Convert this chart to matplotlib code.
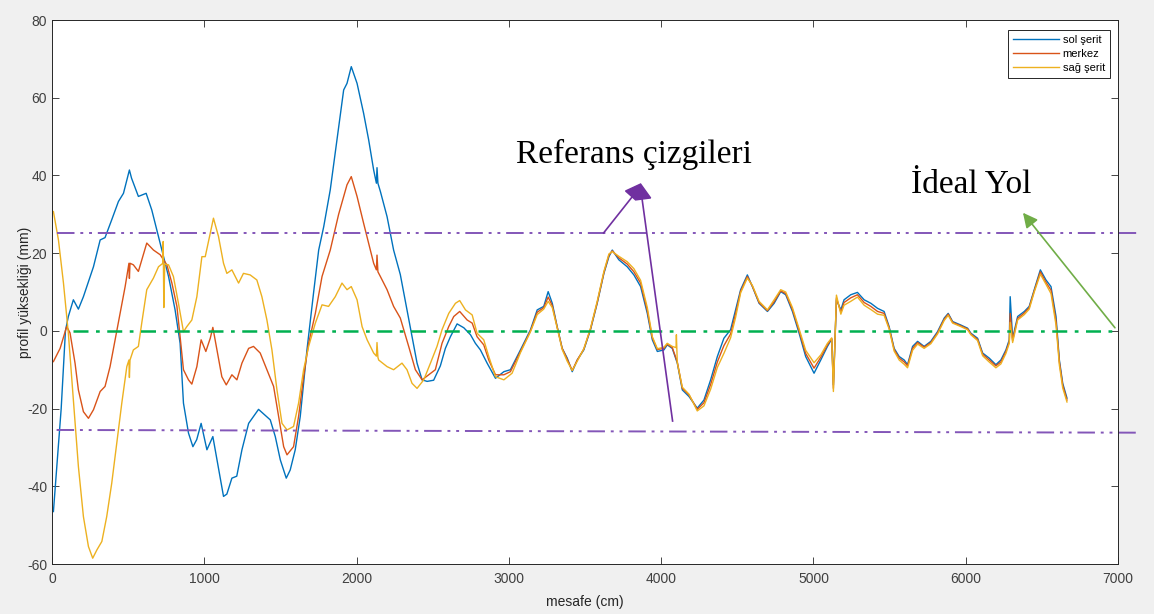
import matplotlib
matplotlib.use("Agg")
import matplotlib.pyplot as plt
from matplotlib.patches import Polygon

plt.rcParams['axes.unicode_minus'] = False

# --- data ---
sol_x = [9, 60, 88, 107, 140, 173, 206, 272, 316, 348, 392, 436, 469, 508, 522, 567, 618, 655,
         710, 765, 808, 841, 863, 896, 925, 950, 979, 1017, 1056, 1083, 1126, 1148, 1181, 1213,
         1247, 1291, 1356, 1433, 1466, 1499, 1538, 1564, 1597, 1630, 1674, 1718, 1751, 1784,
         1827, 1871, 1915, 1937, 1965, 2003, 2046, 2079, 2112, 2130, 2134, 2140, 2156, 2200,
         2243, 2287, 2331, 2364, 2397, 2430, 2463, 2506, 2550, 2583, 2616, 2660, 2704, 2748,
         2780, 2813, 2857, 2912, 2967, 3010, 3076, 3142, 3186, 3229, 3258, 3285, 3317, 3350,
         3383, 3416, 3449, 3492, 3536, 3580, 3624, 3657, 3679, 3722, 3777, 3821, 3865, 3909,
         3942, 3975, 4018, 4040, 4073, 4106, 4139, 4183, 4237, 4281, 4325, 4369, 4412, 4456,
         4489, 4522, 4566, 4599, 4643, 4698, 4742, 4785, 4818, 4862, 4906, 4949, 5004, 5048,
         5092, 5120, 5131, 5151, 5180, 5201, 5245, 5289, 5333, 5377, 5421, 5464, 5497, 5530,
         5563, 5596, 5618, 5651, 5684, 5727, 5771, 5815, 5859, 5885, 5914, 5968, 6012, 6034,
         6078, 6111, 6154, 6198, 6231, 6264, 6286, 6292, 6308, 6341, 6385, 6417, 6450, 6490,
         6527, 6560, 6593, 6615, 6637, 6665]
sol_y = [-46.5, -20, 0, 3.7, 8, 5.6, 8.8, 16.5, 23.4, 24, 28.6, 33.3, 35.4, 41.4, 39.3, 34.6,
         35.4, 31.1, 22.6, 14, 5.4, -3.2, -18.6, -26.3, -29.8, -28, -23.8, -30.6, -27.2, -33.2,
         -42.6, -42, -37.9, -37.4, -30.6, -23.8, -20.2, -22.9, -27.2, -33.2, -37.9, -35.8,
         -30.6, -22, -4.9, 10, 20.8, 26.8, 36.3, 49.2, 62, 63.7, 68, 63.7, 56, 49.2, 41.4, 38,
         42, 38, 35.9, 29.4, 20.8, 14.5, 5.4, -1.5, -8.3, -12.6, -13, -12.7, -9, -4.5, -1.5,
         1.8, 0.8, -1, -3.2, -4.9, -8.3, -12.2, -10.5, -10, -4.9, 0.3, 5.4, 6.3, 10.1, 7.1, 1.1,
         -4.5, -7, -10.5, -7.5, -4.9, 0.3, 7.1, 14.8, 19.1, 20.8, 18.3, 16.5, 14.4, 11.4, 4.5,
         -2.3, -5.3, -4.9, -3.6, -4.5, -8.3, -15.2, -16.9, -19.9, -17.8, -12.6, -6.6, -1.9, 0.3,
         5.4, 10.6, 14.4, 11.4, 7.1, 5, 7.1, 10.1, 9.3, 5, -0.6, -6.6, -10.9, -7.5, -4, -2.1,
         -13.9, 8, 5.4, 8, 9.3, 9.9, 8, 7.1, 5.8, 5, 1.1, -4.5, -6.6, -7.5, -8.7, -4, -2.7, -4,
         -2.7, -0.2, 3.3, 4.5, 2.4, 1.5, 0.7, -0.6, -1.9, -5.7, -7, -8.7, -7.5, -4.9, -2.3, 8.8,
         -1.9, 3.7, 5, 6.3, 10.6, 15.7, 13.1, 11.4, 3.7, -7.5, -13.5, -17.3]

merkez_x = [9, 53, 96, 118, 151, 173, 206, 239, 272, 316, 348, 381, 414, 447, 480, 505, 508,
            512, 534, 567, 622, 666, 710, 754, 787, 820, 841, 863, 896, 918, 951, 979, 1010,
            1039, 1056, 1083, 1115, 1144, 1181, 1214, 1247, 1291, 1323, 1367, 1411, 1455, 1488,
            1521, 1543, 1586, 1619, 1652, 1685, 1729, 1773, 1827, 1882, 1937, 1965, 2003, 2046,
            2079, 2112, 2130, 2134, 2140, 2156, 2200, 2243, 2287, 2342, 2386, 2430, 2474, 2517,
            2561, 2605, 2638, 2677, 2726, 2759, 2791, 2835, 2868, 2912, 2967, 3010, 3076, 3142,
            3186, 3229, 3258, 3285, 3317, 3350, 3383, 3416, 3449, 3492, 3536, 3580, 3624, 3657,
            3679, 3722, 3777, 3821, 3865, 3909, 3942, 3975, 4018, 4040, 4073, 4106, 4139, 4183,
            4237, 4281, 4325, 4369, 4412, 4456, 4489, 4522, 4566, 4599, 4643, 4698, 4742, 4785,
            4818, 4862, 4906, 4949, 5004, 5048, 5092, 5120, 5131, 5151, 5180, 5201, 5245, 5289,
            5333, 5377, 5421, 5464, 5497, 5530, 5563, 5596, 5618, 5651, 5684, 5727, 5771, 5815,
            5859, 5885, 5914, 5968, 6012, 6034, 6078, 6111, 6154, 6198, 6231, 6264, 6286, 6292,
            6308, 6341, 6385, 6417, 6450, 6490, 6527, 6560, 6593, 6615, 6637, 6665]
merkez_y = [-7.9, -4.5, 1.1, -0.5, -8.3, -15.2, -20.8, -22.5, -20.3, -15.6, -14.3, -9.2, -2.3,
            4.5, 11.4, 17.4, 13.5, 17.4, 17, 15.3, 22.6, 20.8, 19.6, 17, 12.3, 6.3, -1.5, -10,
            -12.6, -13.7, -9.2, -2.3, -5.3, -1.9, 0.9, -4.9, -11.8, -13.9, -11.3, -12.6, -8.3,
            -4.5, -4, -5.7, -10, -14.3, -22, -29.8, -31.9, -29.8, -22, -11.8, -3.2, 4.5, 14, 20.8,
            30, 37.6, 39.7, 34.6, 27.7, 22.6, 17.4, 15.7, 19.5, 15.2, 14, 10.6, 6.3, 3.3, -4, -10,
            -12.6, -11.3, -10, -3.2, 1.1, 3.7, 5, 2.8, 2, -1.5, -3.6, -7.5, -11.3, -11.3, -10.5,
            -5.3, 0, 4.8, 6, 8.7, 6.5, 1, -4.5, -7.3, -10.2, -7.5, -4.7, 0.5, 7.3, 15, 19.5, 20.6,
            18.8, 17.2, 15.2, 12.3, 5.2, -1.8, -4.8, -4.5, -3.4, -4.3, -8, -14.8, -16.5, -20.2,
            -18.5, -13.8, -8, -3.8, -0.8, 4.5, 10.2, 14, 11.5, 7.3, 5.2, 7.5, 10.3, 9.6, 5.5, 0,
            -5.8, -9.6, -6.8, -3.6, -2, -14.8, 8.5, 4.8, 7.3, 8.5, 9.3, 7.3, 6.3, 5, 4.5, 0.8,
            -4.8, -7, -8, -9, -4.5, -3, -4.2, -3, -0.5, 3, 4.3, 2.2, 1.3, 0.5, -0.8, -2.2, -6,
            -7.5, -9, -8, -5.3, -2.8, 4.5, -2.5, 3.2, 4.6, 6, 10.3, 15.2, 12.5, 10.5, 2.5, -8,
            -14, -17.8]

sag_x = [9, 42, 75, 107, 140, 173, 206, 239, 267, 294, 327, 359, 392, 425, 458, 491, 505, 508,
         512, 534, 567, 589, 622, 666, 699, 728, 730, 734, 740, 765, 797, 830, 863, 885, 918,
         951, 984, 1006, 1039, 1060, 1093, 1126, 1148, 1181, 1225, 1257, 1301, 1345, 1378, 1411,
         1444, 1477, 1510, 1543, 1586, 1619, 1652, 1685, 1729, 1773, 1816, 1860, 1904, 1937,
         1965, 2003, 2036, 2069, 2112, 2130, 2134, 2140, 2145, 2200, 2243, 2298, 2331, 2364,
         2397, 2441, 2485, 2528, 2561, 2605, 2649, 2677, 2715, 2759, 2791, 2835, 2868, 2912,
         2967, 3021, 3076, 3142, 3186, 3229, 3258, 3285, 3317, 3350, 3383, 3416, 3449, 3492,
         3536, 3580, 3624, 3657, 3679, 3722, 3777, 3821, 3865, 3909, 3942, 3975, 4018, 4040,
         4073, 4098, 4100, 4106, 4139, 4183, 4237, 4281, 4325, 4369, 4412, 4456, 4489, 4522,
         4566, 4599, 4643, 4698, 4742, 4785, 4818, 4862, 4906, 4949, 5004, 5048, 5092, 5120,
         5131, 5151, 5180, 5201, 5245, 5289, 5333, 5377, 5421, 5464, 5497, 5530, 5563, 5596,
         5618, 5651, 5684, 5727, 5771, 5815, 5859, 5885, 5914, 5968, 6012, 6034, 6078, 6111,
         6154, 6198, 6231, 6264, 6286, 6292, 6308, 6341, 6385, 6417, 6450, 6490, 6527, 6560,
         6593, 6615, 6637, 6665]
sag_y = [30.7, 23.4, 12.3, -0.6, -17.8, -34.9, -47.8, -55.5, -58.5, -56.4, -54.2, -47.8, -39.2,
         -28.9, -18.6, -9.2, -7.5, -12, -7.5, -4.9, -4, 2, 10.6, 13.6, 16.5, 17.4, 23, 6, 17.2,
         17, 14, 7.1, -0.2, 1.1, 2.8, 8.8, 19.1, 19.1, 25.1, 29, 24.3, 17.4, 14.8, 15.7, 12.3,
         14.8, 14.4, 13.1, 8.8, 2.8, -4.9, -15.2, -23.8, -25.5, -24.6, -18.6, -10, -4, 2, 6.7,
         6.3, 8.8, 12.3, 10.6, 11.4, 8, 1.1, -2.3, -5.7, -6.5, -3, -6.8, -7.5, -9.2, -10, -8.3,
         -10, -13.5, -14.8, -12.6, -8.3, -4, 0.3, 4.5, 7.1, 7.8, 5.4, 4.1, -0.6, -2.3, -6.6,
         -11.8, -12.6, -10.9, -5.6, -0.2, 4.2, 5.6, 7.6, 6, 0.8, -4.8, -7.8, -10.2, -7.8, -4.6,
         0.7, 7.6, 15.3, 19.8, 20.4, 19.2, 17.8, 16, 13, 6, -1.5, -4.6, -4.2, -3.2, -4, -4.3,
         -1, -8.2, -14.5, -16.3, -20.6, -19.3, -15, -9.4, -5.8, -1.8, 3.5, 9.8, 13.6, 11.7,
         7.6, 5.4, 8, 10.6, 10, 6, 0.5, -5, -8.2, -6.2, -3.2, -1.8, -15.6, 9.2, 4.3, 6.6, 7.6,
         8.7, 6.6, 5.5, 4.3, 4, 0.5, -5.2, -7.5, -8.6, -9.5, -5, -3.4, -4.5, -3.3, -0.8, 2.7, 4,
         2, 1.1, 0.3, -1, -2.5, -6.4, -8, -9.5, -8.5, -5.8, -3.2, 2.2, -3, 2.8, 4.2, 5.6, 10,
         14.6, 12, 9.6, 1.5, -8.8, -14.7, -18.3]

labels = ["sol şerit", "merkez", "sağ şerit"]
colors = ["#0072BD", "#D95319", "#EDB120"]

# reference lines (start x, end x, y at start, y at end)
ust_ref = (30, 7150, 25.2, 25.2)
alt_ref = (30, 7150, -25.5, -26.2)
ideal = (140, 7000, 0, 0)

fig = plt.figure(figsize=(11.54, 6.14), dpi=100, facecolor="#f0f0f0")
ax = fig.add_axes([0.0451, 0.0814, 0.9237, 0.886])
ax.set_facecolor("white")

for xs, ys, lab, c in zip([sol_x, merkez_x, sag_x], [sol_y, merkez_y, sag_y], labels, colors):
    ax.plot(xs, ys, color=c, lw=1.0, label=lab)

purple = "#8356B8"
for r in (ust_ref, alt_ref):
    ax.plot(r[:2], r[2:], color=purple, lw=1.4, dashes=(9, 3, 1.5, 3, 1.5, 3), clip_on=False)
ax.plot(ideal[:2], ideal[2:], color="#00B050", lw=1.8, dashes=(6, 3, 1.5, 3))

ax.set_xlim(0, 7000)
ax.set_ylim(-60, 80)
ax.set_xticks(range(0, 7001, 1000))
ax.set_yticks(range(-60, 81, 20))
ax.tick_params(direction="in", top=True, right=True, labelsize=10, colors="#262626",
               labelcolor="#404040", length=5, width=0.6)
ax.tick_params(axis="x", pad=6)
for lbl in ax.get_xticklabels() + ax.get_yticklabels():
    lbl.set_fontfamily("Liberation Sans")
for s in ax.spines.values():
    s.set_color("#262626")
    s.set_linewidth(0.7)

ax.set_xlabel("mesafe (cm)", fontsize=10, family="Liberation Sans", color="#262626", labelpad=6)
ax.set_ylabel("profil yüksekliği (mm)", fontsize=10, family="Liberation Sans", color="#262626",
              labelpad=-4)

leg = ax.legend(loc="upper right", bbox_to_anchor=(0.9925, 0.981),
                prop={"family": "Liberation Sans", "size": 8}, handlelength=4.2,
                fancybox=False, framealpha=1, edgecolor="#262626", borderpad=0.45,
                labelspacing=0.35, handletextpad=0.3, borderaxespad=0)
leg.get_frame().set_linewidth(0.7)

# annotations
ax.text(3819, 45.3, "Referans çizgileri", fontsize=24, family="Liberation Serif",
        ha="center", va="center")
ax.text(6034, 37.5, "İdeal Yol", fontsize=24, family="Liberation Serif",
        ha="center", va="center")

ok_mor = "#7030A0"
ax.plot([3622, 3832], [25.2, 35.6], color=ok_mor, lw=1.2)
ax.plot([4075, 3871], [-23.2, 35.0], color=ok_mor, lw=1.2)
ax.add_patch(Polygon([[3766, 36.0], [3865, 37.8], [3931, 34.2], [3832, 33.7]],
                     closed=True, color=ok_mor))

ax.annotate("", xy=(6376, 30.4), xytext=(6980, 0.8),
            arrowprops=dict(arrowstyle="-|>", color="#70AD47", lw=1.2, mutation_scale=22,
                            shrinkA=0, shrinkB=0))

fig.savefig("out.png", dpi=100, facecolor=fig.get_facecolor())
